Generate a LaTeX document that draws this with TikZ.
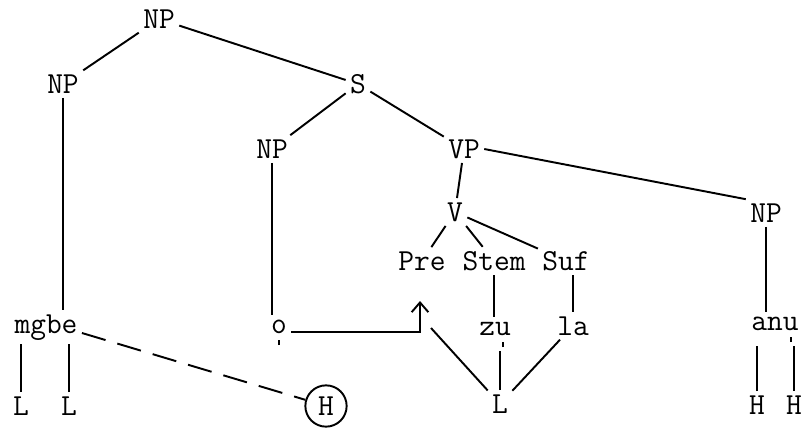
\documentclass[tikz,border=0pt]{standalone}
\usetikzlibrary{positioning, arrows.meta}
\newcommand\udot[1]{\leavevmode\vtop{\baselineskip0pt\lineskip.55ex
    \ialign{##\crcr#1\crcr\hidewidth\rule{1.4pt}{2.6pt}\hidewidth\crcr}}}

\begin{document}
\begin{tikzpicture}[x=0.02cm, y=-0.02cm, line width=1.1pt,
        every node/.style={font=\ttfamily\fontsize{17.4}{20}\selectfont, inner sep=2pt},
        tone/.style={circle, draw, minimum size=23.5pt, inner sep=0pt},
        gap/.style={dash pattern=on 14pt off 7pt}]
    \useasboundingbox (0,0) rectangle (801,430);
    % tree
    \node (np0) at (159,19) {NP};
    \node (np1) at (63,84) {NP};
    \node (s) at (358,84) {S};
    \node (npo) at (272,149) {NP};
    \node (vp) at (464,149) {VP};
    \node (v) at (455,212) {V};
    \node (npr) at (766,213) {NP};
    \node (pre) at (422,261) {Pre};
    \node (stem) at (494,261) {Stem};
    \node (suf) at (566,261) {Suf};
    % words
    \node[anchor=base] (mgbe) at (46,333) {mgbe};
    \node[anchor=base] (o) at (279,333) {\udot{o}};
    \node[anchor=base] (zu) at (495,335) {z\udot{u}};
    \node[anchor=base] (la) at (573,335) {la};
    \node[anchor=base] (anu) at (775,330) {an\udot{u}};
    % tones
    \node (l1) at (21,406) {L};
    \node (l2) at (69,406) {L};
    \node[tone] (h0) at (326,406) {H};
    \node (l3) at (500,404) {L};
    \node (h1) at (757,405) {H};
    \node (h2) at (794,405) {H};
    \coordinate (hook) at (420,301);
    \coordinate (loose) at (431,328);

    \draw (np0) -- (np1);
    \draw (np0) -- (s);
    \draw (s) -- (npo);
    \draw (s) -- (vp);
    \draw (vp) -- (v);
    \draw (vp.east) -- (npr.north west);
    \draw (v) -- (pre);
    \draw (v) -- (stem);
    \draw (v) -- (suf);
    \draw (np1) -- (np1 |- mgbe.north);
    \draw (npo) -- (npo |- o.north);
    \draw (stem) -- (stem |- zu.north);
    \draw (la.north) -- (la.north |- suf.south);
    \draw (npr) -- (npr |- anu.north);
    % association lines
    \draw (l1) -- (l1 |- mgbe.south);
    \draw (l2) -- (l2 |- mgbe.south);
    \draw[gap] (mgbe.base east) -- (h0);
    \draw[-{Straight Barb[length=5.5pt,width=9.5pt]}] (o.east) -| (hook);
    \draw (l3) -- (loose);
    \draw (l3) -- (l3 |- zu.south);
    \draw (l3) -- (la);
    \draw (h1) -- (h1 |- anu.south);
    \draw (h2) -- (h2 |- anu.south);
\end{tikzpicture}
\end{document}
